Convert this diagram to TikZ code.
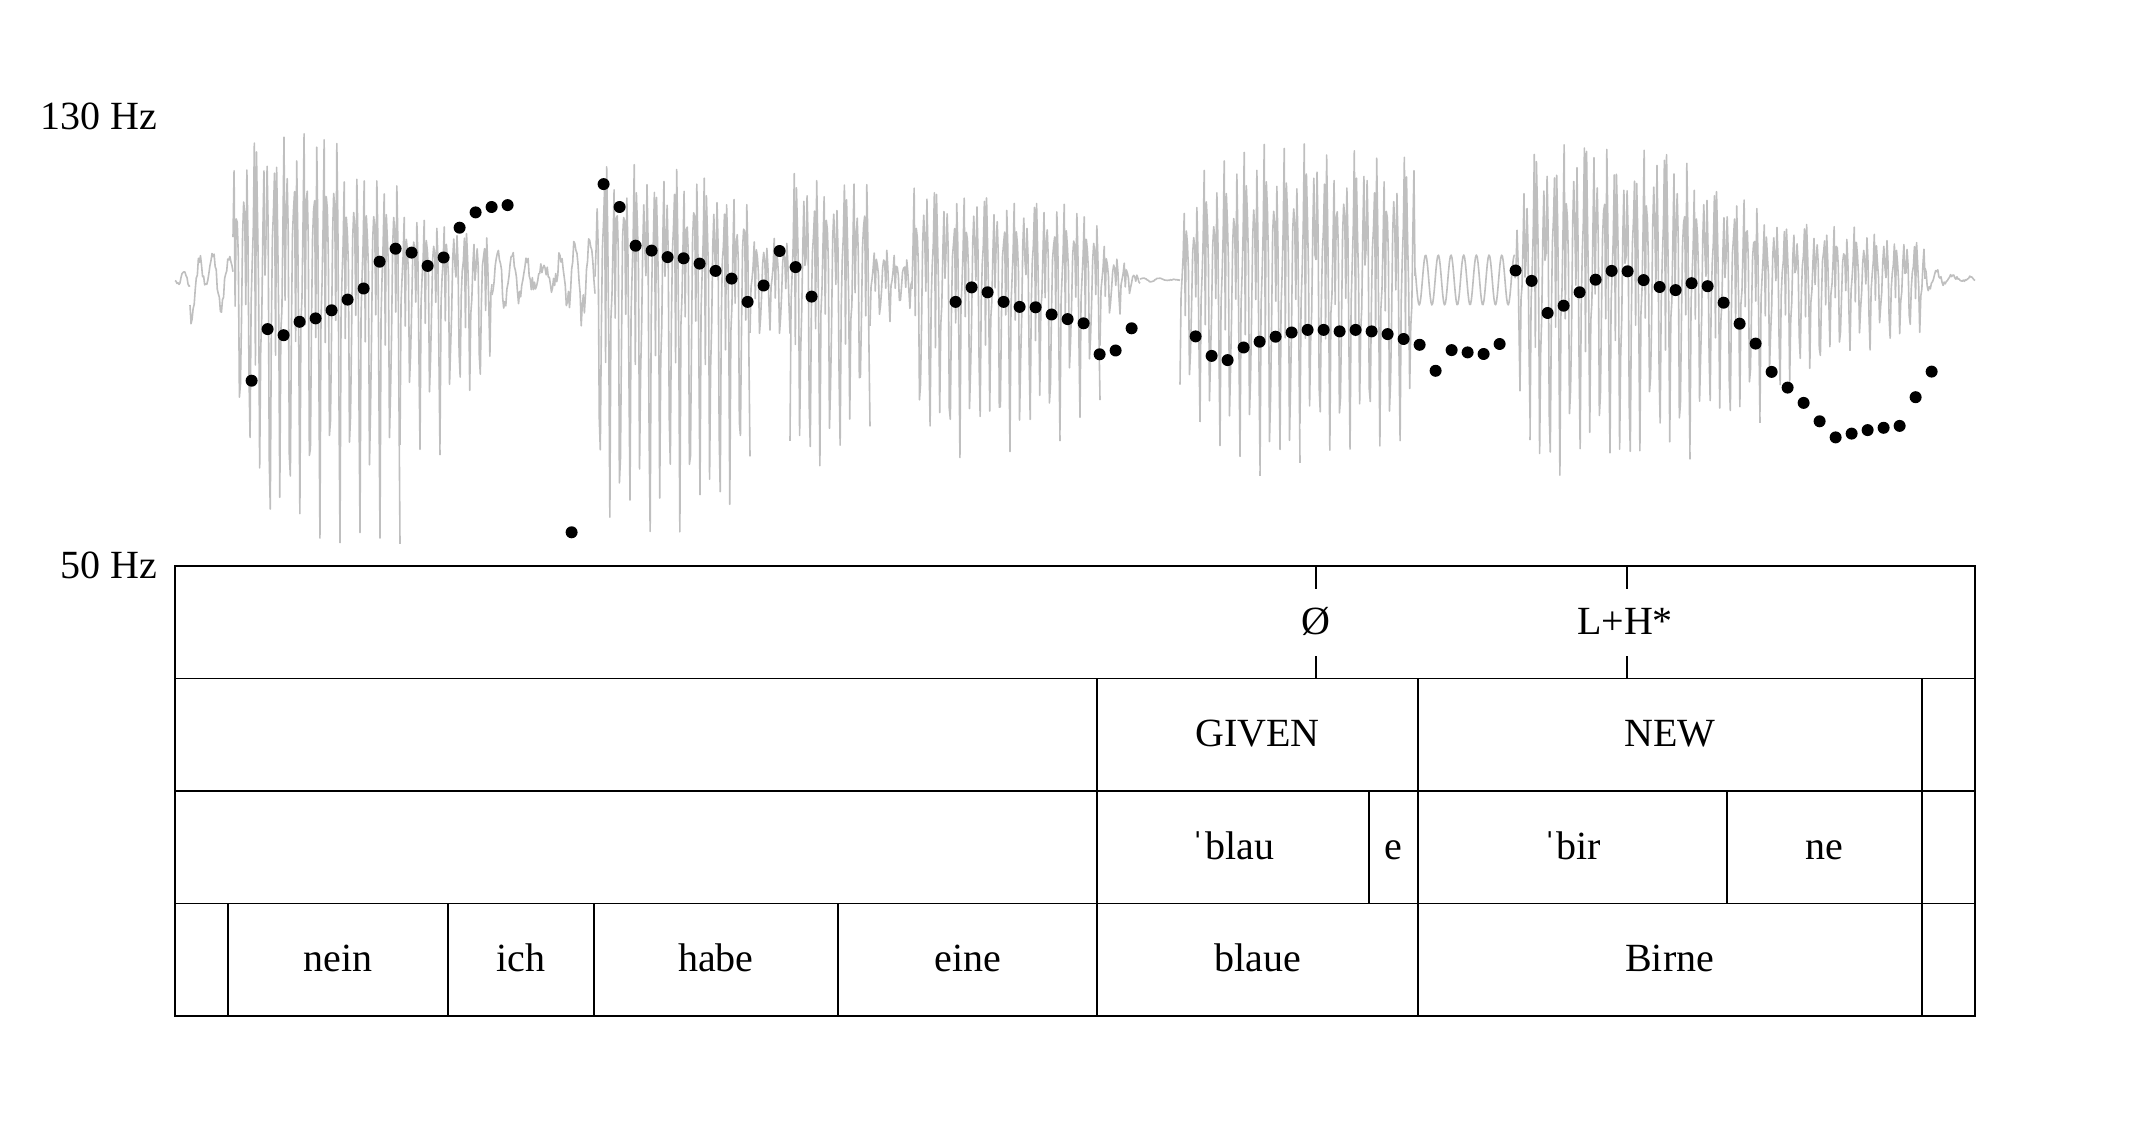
\documentclass[tikz,border=0pt]{standalone}
\usepackage{fontspec}
\setmainfont{Liberation Serif}
\begin{document}
\begin{tikzpicture}[x=0.25pt,y=-0.25pt,
  wave/.style={draw=black!25,line width=0.4pt,line join=round},
  tbl/.style={draw=black,line width=0.45pt},
  lbl/.style={anchor=base,inner sep=0pt,font=\fontsize{10pt}{12pt}\selectfont},
  hz/.style={anchor=east,inner sep=0pt,font=\fontsize{10pt}{12pt}\selectfont},
  declare function={
    wph(\t)=36*mod(\t,10);
    wc(\t)=((1+cos(wph(\t)))/2)^8;
    pr(\t)=abs(sin(mod(\t,97)*37.3+mod(\t*7,13)*71.7));
    wo(\t)=0.33+0.67*(0.6*sin(3*wph(\t)+40)+0.4*sin(5*wph(\t)+10));
    wv(\t)=(0.72+0.28*pr(\t))*((1-wc(\t))*1.2*wo(\t)-1.1*wc(\t));
    wn(\t)=0.55*sin(24*mod(\t,15))+0.45*(2*pr(\t)-1);
    ws(\t)=sin(28.35*mod(\t,12.7));
    wy(\wS,\wT,\wB)=280-\wS*(\wT+\wB)/2-abs(\wS)*(\wT-\wB)/2;
  }]
\useasboundingbox (0,0) rectangle (2150,1133);

% ---------- waveform ----------
\foreach \xa/\xb/\ta/\tb/\ba/\bb in {
  233/265/115/160/150/240, 265/340/160/150/240/240, 340/400/115/105/240/240,
  400/440/70/60/150/160, 440/492/60/45/150/90,
  595/700/120/115/240/235, 700/750/110/85/235/200, 750/790/45/45/60/60,
  790/870/115/105/180/160, 870/912/40/20/50/25,
  912/1060/100/80/170/150, 1060/1100/85/60/140/110, 1100/1140/40/3/60/3,
  1180/1200/60/100/100/140, 1200/1260/110/140/140/180, 1260/1300/140/135/190/180,
  1300/1415/140/130/165/150,
  1515/1530/60/120/100/160, 1530/1690/150/135/185/170, 1690/1760/110/80/150/130,
  1760/1850/65/55/120/70, 1850/1925/55/40/70/50}{
  \pgfmathtruncatemacro{\ns}{(\xb-\xa)/1.07+2}
  \draw[wave] plot[variable=\t,domain=\xa:\xb,samples=\ns]
    (\t,{wy(wv(\t),\ta+(\tb-\ta)*((\t-\xa)/(\xb-\xa)),\ba+(\bb-\ba)*((\t-\xa)/(\xb-\xa)))});
}
\foreach \xa/\xb/\ta/\tb/\ba/\bb in {
  175/190/6/10/6/10, 190/233/40/25/45/30, 492/595/30/50/40/80,
  1140/1180/2/2/2/2, 1925/1975/20/4/20/4}{
  \pgfmathtruncatemacro{\ns}{(\xb-\xa)/1.07+2}
  \draw[wave] plot[variable=\t,domain=\xa:\xb,samples=\ns]
    (\t,{wy(wn(\t),\ta+(\tb-\ta)*((\t-\xa)/(\xb-\xa)),\ba+(\bb-\ba)*((\t-\xa)/(\xb-\xa)))});
}
\draw[wave] plot[variable=\t,domain=1415:1515,samples=120]
    (\t,{wy(ws(\t),25,25)});

% ---------- F0 dots ----------
\foreach \k/\y in {0/380.7,1/329.1,2/335.2,3/321.8,4/318.4,5/310.3,6/299.6,7/288.5,
  8/261.7,9/248.7,10/252.6,11/265.9,12/257.5,13/227.7,14/212.4,15/207.0,16/205.1,
  20/532.3,22/184.1,23/207.0,24/245.7,25/250.6,26/257.1,27/258.3,28/263.6,29/270.9,
  30/278.6,31/301.9,32/285.5,33/251.0,34/267.1,35/296.6,
  44/301.9,45/287.4,46/292.3,47/301.9,48/306.9,49/307.3,50/314.5,51/319.1,
  52/323.3,53/354.3,54/350.5,55/328.3,
  59/336.4,60/355.9,61/360.1,62/347.5,63/341.7,64/336.7,65/332.5,66/329.9,67/329.9,
  68/331.4,69/329.9,70/331.4,71/334.1,72/339.0,73/344.8,74/370.8,75/350.1,76/352.4,
  77/354.0,78/344.0,79/270.5,80/280.9,81/313.0,82/305.7,83/292.3,84/279.7,85/270.9,
  86/271.3,87/280.1,88/287.0,89/290.1,90/283.2,91/286.2,92/302.7,93/323.7,94/343.6,
  95/371.9,96/387.6,97/402.9,98/421.3,99/437.4,100/433.6,101/430.1,102/427.8,
  103/425.9,104/397.2,105/371.6}{
  \fill[black] ({251.6+16*\k},\y) circle[radius=1.5pt];
}

% ---------- axis labels ----------
\node[hz] (hzhi) at (158,116.5) {130 Hz};
\node[hz] (hzlo) at (158,565) {50 Hz};

% ---------- annotation table ----------
\draw[tbl] (175,566) rectangle (1975,1016);
\draw[tbl] (175,678.5) -- (1975,678.5);
\draw[tbl] (175,791) -- (1975,791);
\draw[tbl] (175,903.5) -- (1975,903.5);
% tone tier ticks
\draw[tbl] (1315.7,566) -- (1315.7,589);
\draw[tbl] (1315.7,656) -- (1315.7,678.5);
\draw[tbl] (1626.7,566) -- (1626.7,589);
\draw[tbl] (1626.7,656) -- (1626.7,678.5);
% long dividers
\foreach \xx in {1097.3,1417.7,1921.7} \draw[tbl] (\xx,678.5) -- (\xx,1016);
% syllable tier
\foreach \xx in {1368.7,1727} \draw[tbl] (\xx,791) -- (\xx,903.5);
% word tier
\foreach \xx in {228.3,448.3,593.7,838} \draw[tbl] (\xx,903.5) -- (\xx,1016);

% labels
\node[lbl] (t1) at (1315.7,634.5) {Ø};
\node[lbl] (t2) at (1625,634.5) {L+H*};
\node[lbl] (g1) at (1257.5,746.8) {GIVEN};
\node[lbl] (g2) at (1669.7,746.8) {NEW};
\node[lbl] (s1) at (1233,859.2) {ˈblau};
\node[lbl] (s2) at (1393,859.2) {e};
\node[lbl] (s3) at (1572,859.2) {ˈbir};
\node[lbl] (s4) at (1824,859.2) {ne};
\node[lbl] (w1) at (338.3,971.8) {nein};
\node[lbl] (w2) at (521,971.8) {ich};
\node[lbl] (w3) at (715.8,971.8) {habe};
\node[lbl] (w4) at (967.6,971.8) {eine};
\node[lbl] (w5) at (1257.5,971.8) {blaue};
\node[lbl] (w6) at (1669.7,971.8) {Birne};
\end{tikzpicture}
\end{document}
